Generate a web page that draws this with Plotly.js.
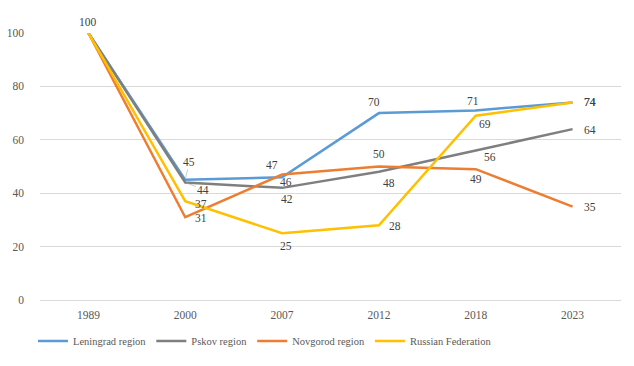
<!DOCTYPE html>
<html><head><meta charset="utf-8">
<script src="https://cdn.plot.ly/plotly-3.0.1.min.js"></script>
<style>html,body{margin:0;padding:0;background:#fff}#chart{width:634px;height:366px}</style>
</head><body><div id="chart"></div>
<script>
const years = ['1989','2000','2007','2012','2018','2023'];
const seriesNames = ['Leningrad region','Pskov region','Novgorod region','Russian Federation'];
const leningrad = [100, 45, 46, 70, 71, 74];
const pskov = [100, 44, 42, 48, 56, 64];
const novgorod = [100, 31, 47, 50, 49, 35];
const russia = [100, 37, 25, 28, 69, 74];
const colors = ['#5B9BD5','#7F7F7F','#ED7D31','#FFC000'];
const allSeries = [leningrad, pskov, novgorod, russia];

// label offsets [dx, dy] in px (dy positive = down) per series/point (null = no label)
const labelOffsets = [
  [null, [4,-18], [4,5], [-5,-11], [-3,-9], [17,0]],
  [null, [18,7], [5,11], [10,11], [14,7], [17,1]],
  [[0,-11], [16,1], [-10,-10], [0,-13], [0,10], [17,0]],
  [null, [16,3], [4,13], [16,1], [9,8], [17,0]]
];
const leaders = {'0-1': true, '1-1': true};

const traces = allSeries.map((vals, i) => ({
  x: years, y: vals, type: 'scatter', mode: 'lines', name: seriesNames[i],
  line: {color: colors[i], width: 2.5}, cliponaxis: false
}));

const annotations = [];
allSeries.forEach((vals, i) => {
  vals.forEach((v, j) => {
    const off = labelOffsets[i][j];
    if (!off) return;
    const a = {x: j, y: v, text: String(v), xref: 'x', yref: 'y',
      font: {family: 'Liberation Serif, serif', size: 11.5, color: '#404040'}};
    if (leaders[i + '-' + j]) {
      Object.assign(a, {showarrow: true, arrowhead: 0, arrowwidth: 0.6, arrowcolor: '#a6a6a6',
        ax: off[0], ay: off[1], standoff: 2});
    } else {
      Object.assign(a, {showarrow: false, xshift: off[0], yshift: -off[1]});
    }
    annotations.push(a);
  });
});

const layout = {
  width: 634, height: 366,
  margin: {l: 40, r: 13, t: 33, b: 66},
  paper_bgcolor: '#fff', plot_bgcolor: '#fff',
  font: {family: 'Liberation Serif, serif', size: 11.5, color: '#595959'},
  xaxis: {type: 'category', range: [-0.5, 5.5], showgrid: false, zeroline: false, automargin: false,
    showline: true, linecolor: '#d9d9d9', linewidth: 1, ticks: '', ticklabelstandoff: 4},
  yaxis: {range: [0, 100], dtick: 20, tick0: 0, showgrid: true, gridcolor: '#d9d9d9', gridwidth: 1,
    zeroline: false, showline: false, ticks: '', ticklabelstandoff: 15, automargin: false},
  showlegend: true,
  legend: {orientation: 'h', xref: 'container', x: 0.052, xanchor: 'left', yref: 'container', y: 0.068, yanchor: 'middle',
    font: {family: 'Liberation Serif, serif', size: 10.5, color: '#595959'}, traceorder: 'normal'},
  annotations: annotations
};
Plotly.newPlot('chart', traces, layout, {displayModeBar: false, staticPlot: true});
</script></body></html>
